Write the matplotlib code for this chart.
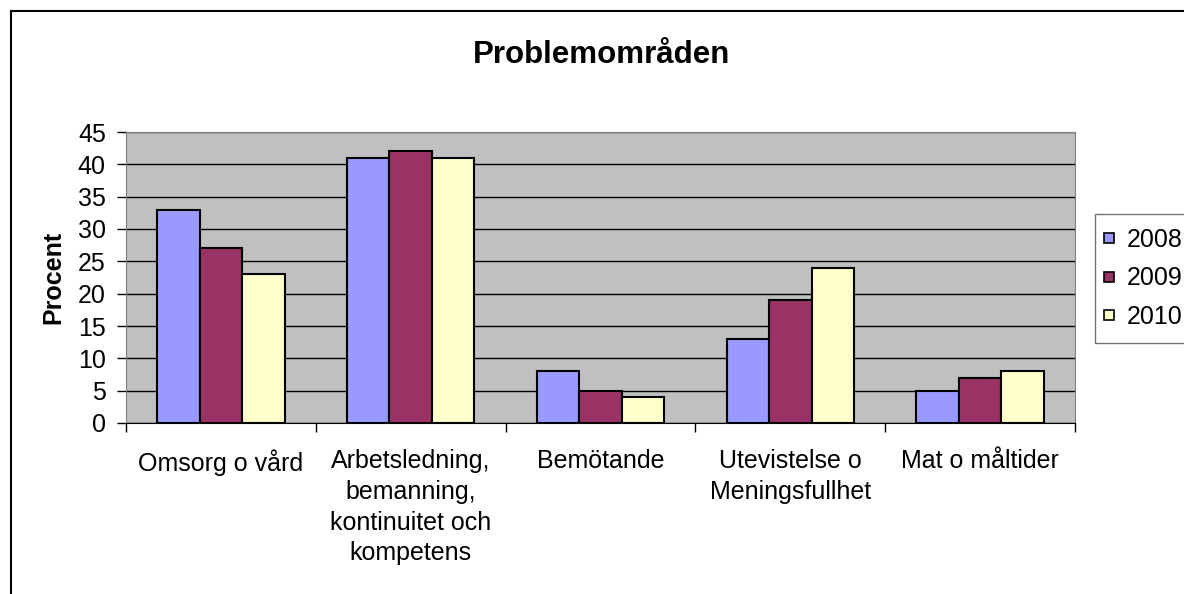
import matplotlib.pyplot as plt
import numpy as np
from matplotlib.lines import Line2D

# Data
categories = [
    "Omsorg o vård",
    "Arbetsledning,\nbemanning,\nkontinuitet och\nkompetens",
    "Bemötande",
    "Utevistelse o\nMeningsfullhet",
    "Mat o måltider",
]
years = ["2008", "2009", "2010"]
values_2008 = [33, 41, 8, 13, 5]
values_2009 = [27, 42, 5, 19, 7]
values_2010 = [23, 41, 4, 24, 8]
y_ticks = [0, 5, 10, 15, 20, 25, 30, 35, 40, 45]

COLORS = ["#9999FF", "#993366", "#FFFFCC"]
W, H = 1184, 594

plt.rcParams["font.family"] = ["Liberation Sans", "DejaVu Sans"]

fig = plt.figure(figsize=(W / 100, H / 100), dpi=100)
ax = fig.add_axes([126 / W, 1 - 423 / H, (1075 - 126) / W, (423 - 132) / H])
ax.set_facecolor("#C0C0C0")

x = np.arange(len(categories))
bw = 0.224
for i, (vals, col) in enumerate(zip([values_2008, values_2009, values_2010], COLORS)):
    ax.bar(x + (i - 1) * bw, vals, width=bw, color=col, edgecolor="black",
           linewidth=1.5, label=years[i], zorder=3)

ax.set_xlim(-0.5, len(categories) - 0.5)
ax.set_ylim(0, 45)
ax.set_yticks(y_ticks)
ax.tick_params(axis="y", labelsize=18, length=6.5, width=1, direction="out", pad=8)
ax.yaxis.grid(True, color="black", linewidth=1, zorder=1)
ax.set_axisbelow(True)

# category labels centred, ticks between categories
ax.set_xticks(np.arange(len(categories) + 1) - 0.5)
ax.set_xticklabels([])
ax.set_xticks(x, minor=True)
ax.set_xticklabels(categories, minor=True, fontsize=18, linespacing=1.35, va="top")
ax.tick_params(axis="x", which="minor", length=0, pad=19)
ax.tick_params(axis="x", which="major", length=6.5, width=1)

for side in ["top", "right", "left"]:
    ax.spines[side].set_color("#808080")
ax.spines["bottom"].set_color("black")

ax.set_ylabel("Procent", fontsize=18, fontweight="bold")
ax.yaxis.set_label_coords((65 - 126) / (1075 - 126), 0.5)
fig.text(602 / W, 1 - 55 / H, "Problemområden", ha="center", va="center",
         fontsize=22.5, fontweight="bold")

handles = [Line2D([], [], marker="s", linestyle="", markersize=7.5,
                  markerfacecolor=c, markeredgecolor="black", markeredgewidth=1.2)
           for c in COLORS]
leg = fig.legend(handles, years, loc="upper left",
                 bbox_to_anchor=(1095 / W, 1 - 214 / H), fontsize=18,
                 frameon=True, fancybox=False, edgecolor="#505050",
                 handlelength=0.0, handletextpad=0.72, borderpad=0.55,
                 labelspacing=0.58, borderaxespad=0)
leg.get_frame().set_linewidth(1)

# outer chart border (cropped on right and bottom)
fig.add_artist(Line2D([10.5 / W, 10.5 / W], [0, 1 - 10.5 / H], color="black",
                      linewidth=1.5, transform=fig.transFigure))
fig.add_artist(Line2D([10.5 / W, 1], [1 - 10.5 / H, 1 - 10.5 / H], color="black",
                      linewidth=1.5, transform=fig.transFigure))

fig.savefig("out.png", dpi=100)
